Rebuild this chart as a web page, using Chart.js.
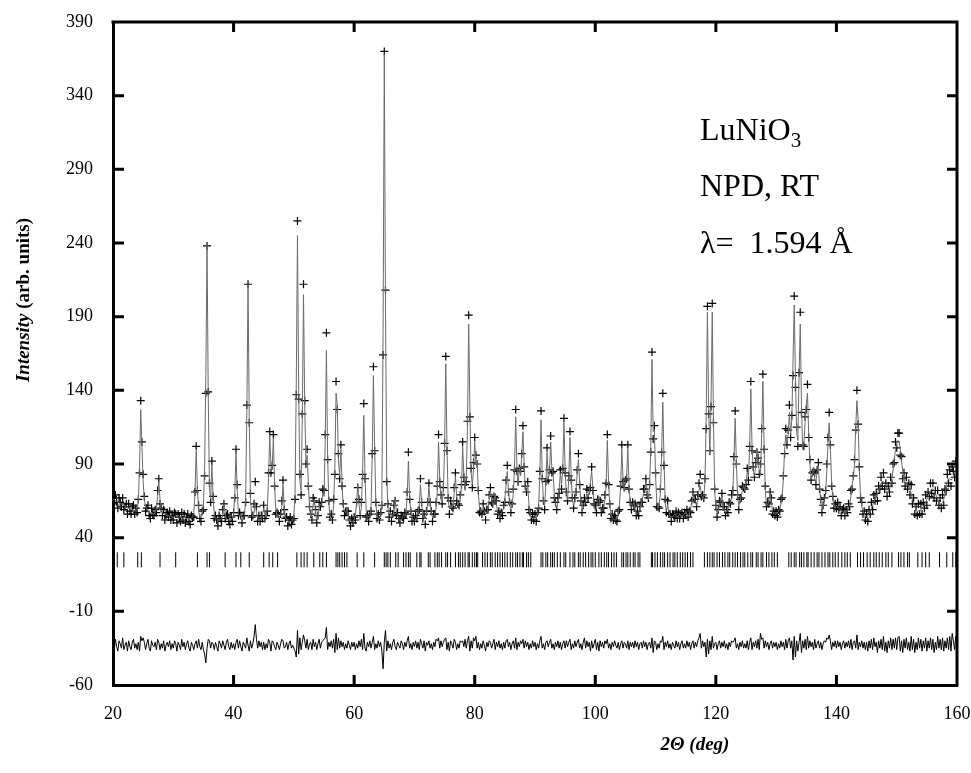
<!DOCTYPE html>
<html><head><meta charset="utf-8">
<script src="https://cdn.jsdelivr.net/npm/chart.js@4.4.1/dist/chart.umd.min.js"></script>
<style>html,body{margin:0;padding:0;background:#fff;}#wrap{width:971px;height:773px;position:relative;}</style>
</head><body><div id="wrap"><canvas id="c" width="971" height="773"></canvas></div>
<script>
// scan: 2theta from 20 to 160 deg, step 0.2 deg
const scanStart = 20, scanStep = 0.2;

// calculated profile (arb. units), one value per scan step
const calcIntensity = [
 66,66,65,65,64, 64,63,63,62,62, 61,61,60,60,59, 59,59,58,58,59, 60,64,88,127,102,
 78,66,61,59,58, 57,57,57,56,56, 57,60,68,78,66, 59,57,56,56,55, 55,55,55,55,54,
 54,54,55,54,54, 54,54,53,53,54, 53,53,53,53,53, 53,54,57,70,99, 74,58,54,54,56,
 62,88,150,240,135, 74,66,90,67,56, 53,53,52,52,52, 53,56,63,56,53, 52,52,52,52,53,
 56,70,98,72,57, 54,56,54,53,55, 66,125,212,122,67, 56,54,57,64,57, 53,52,52,53,56,
 60,56,54,60,80, 110,88,86,108,76, 59,55,56,54,55, 61,76,61,54,52, 51,51,51,51,52,
 55,70,145,245,140, 78,72,122,205,130, 92,96,78,60,54, 55,63,66,57,53, 54,60,63,62,70,
 68,105,167,96,63, 55,53,54,62,88, 138,130,92,82,100, 76,61,58,57,60, 55,52,51,51,51,
 52,55,63,76,63, 56,60,86,123,82, 58,53,52,53,60, 95,150,102,63,55, 53,53,55,66,180,
 368,198,82,60,56, 57,54,54,58,66, 58,55,53,52,52, 53,56,55,57,68, 92,68,57,54,52,
 52,52,55,56,62, 76,63,55,53,53, 56,64,74,66,57, 54,54,57,60,72, 105,80,66,64,72,
 100,158,102,65,60, 62,60,62,70,82, 68,62,64,66,74, 102,82,72,80,116, 185,126,84,76,86,
 105,90,92,70,60, 57,58,60,58,56, 57,60,66,72,66, 62,64,70,63,57, 55,55,56,58,60,
 66,76,85,72,62, 60,62,70,88,122, 88,76,88,82,96, 112,90,72,72,76, 62,56,54,53,53,
 54,54,56,62,82, 120,82,64,62,76, 98,80,84,105,86, 84,70,62,60,64, 72,84,76,86,118,
 86,68,66,80,108, 82,66,62,64,72, 84,93,78,64,60, 60,62,66,70,68, 70,78,85,74,62,
 58,60,64,68,62, 58,58,62,66,76, 106,78,62,56,54, 53,52,52,53,56, 62,74,100,80,72,
 78,82,100,76,62, 60,62,64,60,56, 56,58,60,62,66, 70,74,78,72,66, 74,100,161,112,113,
 82,64,60,62,70, 96,132,92,64,58, 62,58,55,54,54, 55,56,55,54,55, 56,55,54,55,56,
 58,56,55,56,60, 64,68,68,64,62, 66,72,75,70,66, 68,78,122,193,130, 96,132,193,120,72,
 60,57,58,62,66, 68,62,58,57,58, 60,62,64,66,70, 92,121,92,68,62, 64,68,72,76,72,
 78,84,82,100,141, 102,86,82,88,100, 90,86,82,110,146, 102,72,62,62,66, 70,64,58,56,56,
 56,57,58,60,63, 68,80,100,110,105, 110,125,110,120,160, 198,150,112,106,150, 185,130,100,104,118,
 130,138,110,90,80, 82,88,80,78,85, 88,75,64,60,61, 64,70,85,104,118, 100,78,66,61,60,
 62,61,60,59,58, 58,57,57,57,58, 60,63,68,76,80, 90,115,133,120,86, 68,61,58,56,55,
 54,55,56,58,60, 62,64,66,68,70, 72,75,77,78,78, 77,75,73,72,73, 76,80,86,93,100,
 104,106,105,100,92, 85,80,77,76,76, 75,73,70,66,63, 61,59,58,58,58, 59,60,61,62,64,
 66,68,70,72,73, 73,72,70,68,66, 64,63,63,64,66, 70,74,78,80,80, 79,80,82,84,86,
 88
];

// observed minus calculated, one value per scan step
const residual = [
 2,-3,4,-1,-4, 3,1,-2,5,-3, 0,2,-4,3,-1, -3,2,4,-2,1, -3,2,-4,6,3,
 5,2,-3,1,4, -2,-4,3,0,-1, 2,-3,4,2,-3, 1,-2,3,-4,0, 2,-1,3,-3,1,
 -2,3,1,-4,2, 0,-3,4,-1,2, -3,1,3,-2,-4, 2,0,-3,1,3, -2,4,-1,-3,2,
 -3,-6,-12,-2,4, 3,-2,2,1,-3, 2,-1,-4,3,1, -2,3,0,-3,2, 4,-1,-3,2,-2,
 1,-3,2,4,-2, 3,-1,-4,2,0, -2,5,0,-4,3, -2,1,6,14,4, -2,3,-1,2,-3,
 2,-3,1,-2,4, 2,-4,3,2,-1, -3,2,0,-3,1, 4,3,-2,-1,2, -3,1,3,-2,0,
 -2,-4,-8,10,-6, 5,-3,2,7,3, -2,4,-3,1,2, -3,4,-1,2,-3, 1,4,-2,2,3,
 4,5,12,-3,2, -1,3,-2,4,-5, 8,-3,5,-2,3, -1,2,-3,1,-2, 3,0,-3,2,-1,
 2,-3,1,-2,3, -1,4,-3,8,-2, -4,2,-1,3,-2, 2,6,-3,1,-2, 3,-1,2,-4,-16,
 2,10,-4,3,-2, 1,-3,2,4,-1, -3,2,0,-2,3, 1,-3,2,-1,3, 6,-2,1,-3,2,
 -1,3,-2,2,-3, 4,1,-2,3,-4, 2,0,3,-2,1, -3,2,-1,4,3, 5,-2,3,-1,2,
 4,5,-3,2,-4, 3,1,-2,4,2, -3,1,-2,3,2, 3,-1,4,-2,3, 6,-4,3,-2,5,
 3,6,-2,2,-3, 1,-2,3,0,-4, 2,-1,3,2,-2, 1,4,-3,2,-1, 3,-2,1,-3,2,
 -2,3,4,-1,2, -3,1,3,-2,5, -3,2,-1,3,1, 4,-2,3,-1,2, -3,1,-2,3,-1,
 2,-3,1,-2,3, 6,-2,1,-3,2, 3,-1,2,4,-2, 1,-3,2,-1,3, -2,2,-3,1,3,
 -2,3,-1,2,4, -3,1,-2,3,-1, 2,4,-2,1,-3, 2,5,-2,3,-1, 2,-4,3,-2,1,
 4,-3,2,-4,3, -1,2,-2,3,1, 4,-2,1,-3,2, -1,3,0,-2,2, -3,1,3,-2,2,
 1,-2,3,-3,2, -1,2,-2,3,-1, 2,-3,1,2,-2, 3,-1,2,-3,1, 2,-2,5,-5,3,
 2,-3,1,-2,3, 2,6,-3,2,-1, 3,-2,1,-3,2, 0,-2,3,-1,2, -3,1,3,-2,1,
 -2,3,-1,2,-3, 1,3,-2,2,-1, 3,5,8,-2,3, -1,2,-8,4,-6, 3,-3,6,-2,1,
 2,-3,1,3,-2, 2,-1,3,-2,1, -3,2,-1,3,2, 3,5,-2,1,-3, 2,-1,3,-2,1,
 -2,3,-3,2,5, -3,2,-1,3,-2, 4,-3,8,4,5, -2,3,-1,2,-3, 1,3,-2,2,-1,
 2,-3,1,-2,3, -1,2,-3,4,-2, 3,5,-2,3,-10, 6,-8,3,-4,2, 8,-5,3,-2,4,
 -3,6,-2,3,-1, 2,-3,4,-2,1, 3,-2,2,-3,1, 3,2,5,4,7, 3,-3,2,-1,3,
 -2,3,-1,2,-3, 1,3,-2,2,-1, 3,-2,4,-3,2, 3,-2,7,-3,2, -1,3,-2,2,-3,
 2,-4,3,-2,4, -3,5,-1,2,-5, 3,-2,4,-3,6, -4,2,-5,3,-2, 5,-3,4,-2,5,
 -3,5,6,-4,3, -5,4,-2,5,-3, 2,-4,6,-3,4, -5,2,-3,5,-2, 4,-4,3,-2,5,
 -4,3,-2,5,-3, 4,-5,2,-3,6, -2,4,-3,5,-4, 3,-2,5,-3,6, -4,8,3,-3,6,
 2
];

// Bragg reflection positions (deg)
const braggPositions = [
 20.7,21.8,24.1,24.7,27.8,30.4,34.0,35.6,36.0,38.6,40.4,41.2,42.6,45.0,45.9,46.5,47.3,
 50.5,51.2,51.7,52.2,53.3,54.3,54.8,55.4,57.0,57.3,57.6,58.0,58.4,58.8,60.5,61.6,63.4,
 65.0,65.3,65.6,66.0,66.9,67.3,68.2,68.6,69.0,69.3,70.4,70.9,71.1,72.3,72.6,73.4,73.8,74.1,74.5,
 75.2,75.5,76.0,76.8,77.3,77.6,78.0,78.4,78.9,79.1,79.6,80.0,80.3,80.5,81.3,81.7,82.1,82.6,82.9,
 83.4,83.8,84.2,84.6,85.0,85.4,85.9,86.3,86.8,87.1,87.5,87.9,88.1,88.6,88.9,89.3,91.0,91.3,91.8,
 92.1,92.6,92.9,93.2,93.7,94.2,94.8,95.1,95.8,96.3,96.6,97.2,97.5,98.0,98.4,98.9,99.3,99.6,100.0,
 100.6,101.0,101.5,101.9,102.2,102.7,103.1,103.5,104.4,104.7,105.1,105.4,105.8,106.3,106.6,107.1,
 107.4,109.3,109.5,109.9,110.3,110.8,111.2,111.5,112.0,112.4,112.9,113.2,113.6,114.1,114.5,114.9,
 115.3,115.8,116.2,118.1,118.6,119.0,119.4,119.7,120.2,120.6,121.1,121.5,122.0,122.3,122.8,123.2,
 123.6,124.1,124.5,124.8,125.3,125.8,126.1,126.7,127.0,127.5,127.8,128.4,128.8,129.3,129.7,130.2,
 132.1,132.5,133.0,133.3,133.9,134.2,134.6,135.1,135.3,135.8,136.3,136.8,137.1,137.6,138.1,138.6,
 138.9,139.4,139.8,140.3,140.9,141.4,141.8,142.3,143.5,144.0,144.5,145.1,145.6,146.2,146.6,147.1,
 147.6,148.2,148.6,149.2,150.3,150.7,151.2,151.8,152.1,153.5,154.2,154.8,155.4,157.1,158.3,159.3,159.8
];

const xAxisTicks = [20,40,60,80,100,120,140,160];
const yAxisTicks = [-60,-10,40,90,140,190,240,290,340,390];
const braggLevel = 25;
const diffLevel = -33;
const infoLines = ['LuNiO', 'NPD, RT', 'λ=  1.594 Å'];

const twoTheta = calcIntensity.map((_, i) => +(scanStart + i * scanStep).toFixed(1));
const obsPts = calcIntensity.map((c, i) => ({x: twoTheta[i], y: c + residual[i]}));
const calcPts = calcIntensity.map((c, i) => ({x: twoTheta[i], y: c}));
const diffPts = residual.map((r, i) => ({x: twoTheta[i], y: r + diffLevel}));
const braggPts = braggPositions.map(p => ({x: p, y: braggLevel}));

const SERIF = '"Liberation Serif", "Times New Roman", serif';

const decor = {
  id: 'decor',
  afterDraw(chart) {
    const ctx = chart.ctx, xs = chart.scales.x, ys = chart.scales.y, a = chart.chartArea;
    ctx.save();
    ctx.strokeStyle = '#000'; ctx.lineWidth = 3; ctx.lineCap = 'butt';
    // top and right frame
    ctx.beginPath();
    ctx.moveTo(a.left - 1.5, a.top); ctx.lineTo(a.right + 1.5, a.top);
    ctx.moveTo(a.right, a.top); ctx.lineTo(a.right, a.bottom + 1.5);
    ctx.stroke();
    xAxisTicks.slice(1, -1).forEach(v => {
      const px = xs.getPixelForValue(v);
      ctx.beginPath();
      ctx.moveTo(px, a.bottom); ctx.lineTo(px, a.bottom - 10);
      ctx.moveTo(px, a.top); ctx.lineTo(px, a.top + 10);
      ctx.stroke();
    });
    yAxisTicks.slice(1, -1).forEach(v => {
      const py = ys.getPixelForValue(v);
      ctx.beginPath();
      ctx.moveTo(a.left, py); ctx.lineTo(a.left + 11, py);
      ctx.moveTo(a.right, py); ctx.lineTo(a.right - 10, py);
      ctx.stroke();
    });
    ctx.fillStyle = '#000';
    ctx.textBaseline = 'alphabetic'; ctx.textAlign = 'left';
    const tx = 700;
    ctx.font = '32px ' + SERIF;
    ctx.fillText(infoLines[0], tx, 140);
    const w = ctx.measureText(infoLines[0]).width;
    ctx.font = '21px ' + SERIF;
    ctx.fillText('3', tx + w, 147);
    ctx.font = '32px ' + SERIF;
    ctx.fillText(infoLines[1], tx, 196);
    ctx.fillText(infoLines[2], tx, 253);
    // y title
    ctx.save();
    ctx.translate(24, 300); ctx.rotate(-Math.PI / 2);
    ctx.textBaseline = 'middle';
    const f1 = 'italic bold 19px ' + SERIF, f2 = 'bold 19px ' + SERIF;
    const t1 = 'Intensity', t2 = ' (arb. units)';
    ctx.font = f1; const w1 = ctx.measureText(t1).width;
    ctx.font = f2; const w2 = ctx.measureText(t2).width;
    let sx = -(w1 + w2) / 2;
    ctx.font = f1; ctx.fillText(t1, sx, 0);
    ctx.font = f2; ctx.fillText(t2, sx + w1, 0);
    ctx.restore();
    // x title
    ctx.font = 'italic bold 19px ' + SERIF;
    ctx.textAlign = 'center'; ctx.textBaseline = 'middle';
    ctx.fillText('2Θ (deg)', 695, 745);
    ctx.restore();
  }
};

const tickFont = {family: SERIF, size: 18};
new Chart(document.getElementById('c'), {
  type: 'scatter',
  data: {
    datasets: [
      {label: 'calc', data: calcPts, showLine: true, borderColor: '#6a6a6a', borderWidth: 1, pointRadius: 0, order: 1},
      {label: 'obs', data: obsPts, showLine: false, pointStyle: 'cross', pointRadius: 4, borderColor: '#000', borderWidth: 1.2, order: 2},
      {label: 'bragg', data: braggPts, showLine: false, pointStyle: 'line', rotation: 90, pointRadius: 7.5, borderColor: '#000', borderWidth: 1, order: 3},
      {label: 'diff', data: diffPts, showLine: true, borderColor: '#000', borderWidth: 1, pointRadius: 0, order: 4}
    ]
  },
  options: {
    responsive: false, animation: false, devicePixelRatio: 1,
    layout: {padding: {top: 22, right: 14, left: 0, bottom: 0}, autoPadding: false},
    plugins: {legend: {display: false}, tooltip: {enabled: false}},
    scales: {
      x: {type: 'linear', position: 'bottom', min: 20, max: 160,
        afterBuildTicks: ax => { ax.ticks = xAxisTicks.map(v => ({value: v})); },
        afterFit: ax => { ax.height = 88; },
        ticks: {font: tickFont, color: '#000', padding: 0, maxRotation: 0, autoSkip: false},
        grid: {display: false, drawTicks: true, tickLength: 18},
        border: {display: true, width: 3, color: '#000'}},
      y: {type: 'linear', position: 'left', min: -60, max: 390,
        afterBuildTicks: ax => { ax.ticks = yAxisTicks.map(v => ({value: v})); },
        afterFit: ax => { ax.width = 113; },
        ticks: {font: tickFont, color: '#000', padding: 0, autoSkip: false},
        grid: {display: false, drawTicks: true, tickLength: 20},
        border: {display: true, width: 3, color: '#000'}}
    }
  },
  plugins: [decor]
});
</script></body></html>
